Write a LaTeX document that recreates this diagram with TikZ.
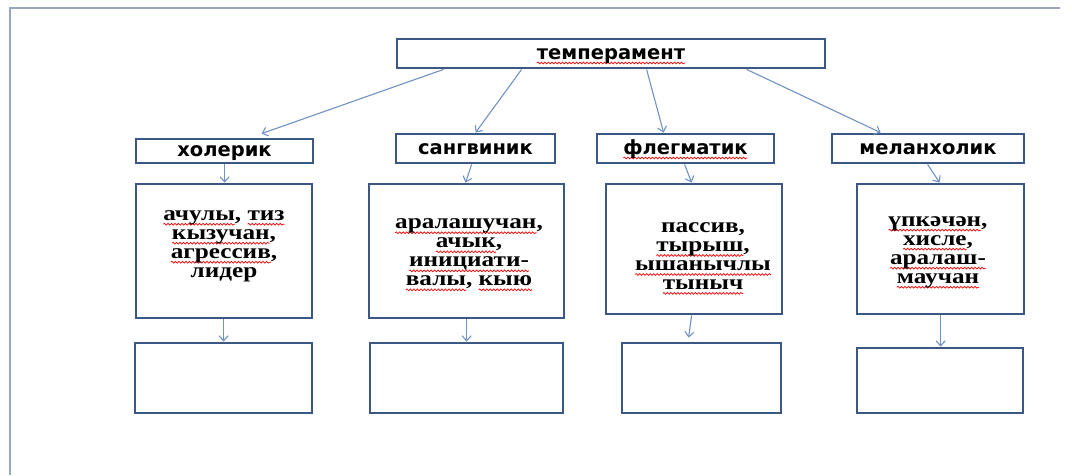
\documentclass[tikz,border=0pt]{standalone}
\usepackage{fontspec}
\usetikzlibrary{arrows.meta,decorations.pathmorphing}
\setmainfont{Liberation Serif}
\newfontfamily\labfont{DejaVu Sans}
\newfontfamily\txtfont[FakeStretch=1.2]{Liberation Serif}
\definecolor{boxc}{HTML}{3A5883}
\definecolor{arrc}{HTML}{6F93C4}
\definecolor{framec}{HTML}{9AA7BA}
\newsavebox\rwbox
\newlength\rwlen
\newcommand\rw[1]{\sbox\rwbox{#1}\setlength\rwlen{\wd\rwbox}\leavevmode\rlap{\tikz[overlay,x=1pt,y=1pt,baseline=0pt]\draw[red,line width=0.7pt,decorate,decoration={snake,segment length=3.5pt,amplitude=0.9pt}] (0pt,-4pt) -- (\rwlen,-4pt);}\usebox\rwbox}
\begin{document}
\begin{tikzpicture}[x=1pt,y=-1pt,
  bx/.style={draw=boxc, line width=2.8pt, inner sep=0pt, fill=white},
  lbl/.style={bx, font=\labfont\bfseries\fontsize{19.5}{21}\selectfont, text height=11pt, text depth=0pt},
  ttext/.style={align=center, inner sep=0pt},
  tA/.style={ttext, font=\txtfont\bfseries\fontsize{21}{19}\selectfont},
  arr/.style={draw=arrc, line width=1.1pt, -{Straight Barb[length=5pt,width=9pt]}}]
\useasboundingbox (0,0) rectangle (1072,475);
\fill[white] (0,0) rectangle (1072,475);
\draw[framec, line width=1.2pt] (10,475) -- (10,8) -- (1060,8);

% top
\node[lbl, minimum width=428pt, minimum height=29pt] (temp) at (611,53.5) {\rw{темперамент}};

% level 2
\node[lbl, minimum width=177pt, minimum height=24pt] (hol) at (224.5,151) {холерик};
\node[lbl, minimum width=159pt, minimum height=29pt] (san) at (475.5,148.5) {сангвиник};
\node[lbl, minimum width=177pt, minimum height=29pt] (fle) at (685.5,148.5) {\rw{флегматик}};
\node[lbl, minimum width=192pt, minimum height=29pt] (mel) at (928,148.5) {меланхолик};

% level 3
\node[bx, minimum width=176pt, minimum height=134pt] (hol3) at (224,251) {};
\node[bx, minimum width=195pt, minimum height=134pt] (san3) at (466.5,251) {};
\node[bx, minimum width=176pt, minimum height=130pt] (fle3) at (694,249) {};
\node[bx, minimum width=167pt, minimum height=130pt] (mel3) at (940.5,249) {};

\node[tA] (hol3t) at (224,246) {\rw{ачулы}, \rw{тиз}\\\rw{кызучан},\\\rw{агрессив},\\лидер};
\node[tA] (san3t) at (469,254) {\rw{аралашучан},\\\rw{ачык},\\\rw{инициати-}\\\rw{валы}, \rw{кыю}};
\node[tA] (fle3t) at (703,256) {пассив,\\\rw{тырыш},\\\rw{ышанычлы}\\\rw{тыныч}};
\node[tA] (mel3t) at (938,252) {\rw{үпкәчән},\\\rw{хисле},\\\rw{аралаш-}\\\rw{маучан}};

% level 4
\node[bx, minimum width=177pt, minimum height=70pt] (hol4) at (223.5,378) {};
\node[bx, minimum width=193pt, minimum height=70pt] (san4) at (466.5,378) {};
\node[bx, minimum width=159pt, minimum height=70pt] (fle4) at (701.5,378) {};
\node[bx, minimum width=166pt, minimum height=65pt] (mel4) at (940,380.5) {};

% arrows top -> level 2
\draw[arr] ([xshift=48pt]temp.south west) -- ([xshift=127pt,yshift=4pt]hol.north west);
\draw[arr] ([xshift=126pt]temp.south west) -- ([xshift=81pt]san.north west);
\draw[arr] ([xshift=251pt]temp.south west) -- ([xshift=68pt]fle.north west);
\draw[arr] ([xshift=351pt]temp.south west) -- ([xshift=50pt]mel.north west);

% level 2 -> level 3
\draw[arr] ([xshift=90pt]hol.south west) -- ([xshift=90pt]hol3.north west);
\draw[arr] ([xshift=77pt]san.south west) -- ([xshift=98pt]san3.north west);
\draw[arr] ([xshift=89pt]fle.south west) -- ([xshift=87pt]fle3.north west);
\draw[arr] ([xshift=97pt]mel.south west) -- ([xshift=84pt]mel3.north west);

% level 3 -> level 4
\draw[arr] ([xshift=89pt]hol3.south west) -- ([xshift=90pt]hol4.north west);
\draw[arr] ([xshift=99pt]san3.south west) -- ([xshift=98pt]san4.north west);
\draw[arr] ([xshift=87pt]fle3.south west) -- ([xshift=68pt,yshift=4pt]fle4.north west);
\draw[arr] ([xshift=85pt]mel3.south west) -- ([xshift=85pt]mel4.north west);
\end{tikzpicture}
\end{document}
